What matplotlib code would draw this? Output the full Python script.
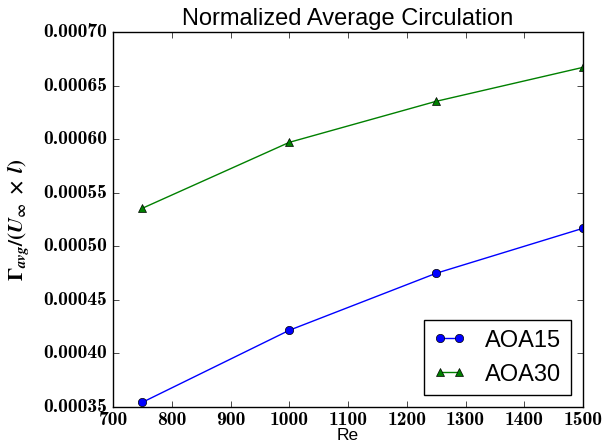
import matplotlib
matplotlib.use("Agg")
import matplotlib.pyplot as plt
from matplotlib.ticker import FormatStrFormatter, MultipleLocator

re_vals = [750, 1000, 1250, 1500]
aoa15 = [0.0003544, 0.0004216, 0.0004748, 0.0005168]
aoa30 = [0.0005355, 0.000597, 0.0006353, 0.000667]

plt.style.use("classic")
# bold math for the axis label
plt.rcParams["mathtext.fontset"] = "custom"
plt.rcParams["mathtext.rm"] = "STIXGeneral:bold"
plt.rcParams["mathtext.it"] = "STIXGeneral:italic:bold"
plt.rcParams["mathtext.bf"] = "STIXGeneral:bold"
plt.rcParams["font.family"] = ["Liberation Sans", "DejaVu Sans"]

fig = plt.figure(figsize=(6.04, 4.46), dpi=100, facecolor="white")
ax = fig.add_axes([113 / 604, 1 - 407 / 446, (583 - 113) / 604, (407 - 32) / 446])

ax.plot(re_vals, aoa15, "b-o", label="AOA15", markersize=6)
ax.plot(re_vals, aoa30, "g-^", label="AOA30", markersize=6)

ax.set_xlim(700, 1500)
ax.set_ylim(0.00035, 0.00070)
ax.xaxis.set_major_locator(MultipleLocator(100))
ax.yaxis.set_major_locator(MultipleLocator(0.00005))
ax.yaxis.set_major_formatter(FormatStrFormatter("%.5f"))
ax.tick_params(labelsize=14)
ax.tick_params(axis="x", pad=3)
for lbl in ax.get_xticklabels() + ax.get_yticklabels():
    lbl.set_family("cmb10")

ax.set_title("Normalized Average Circulation", fontsize=17)
ax.set_xlabel("Re", fontsize=12.5, labelpad=-0.5)
ax.set_ylabel(r"$\Gamma_{avg}/(U_\infty\;\times\;l)$", fontsize=15, labelpad=8)

ax.legend(loc="lower right", bbox_to_anchor=(0.974, 0.032), borderaxespad=0,
          fontsize=17, numpoints=2, handlelength=1.4)

fig.savefig("out.png", dpi=100, facecolor="white")
